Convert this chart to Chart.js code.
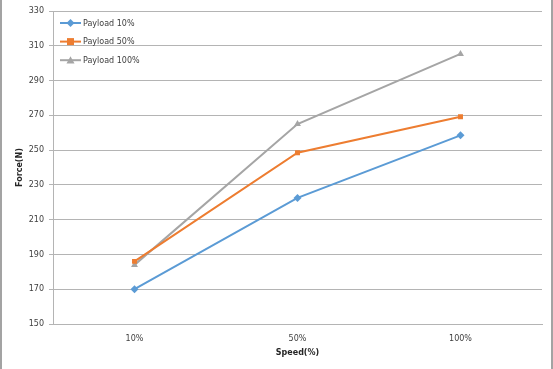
<!DOCTYPE html>
<html>
<head>
<meta charset="utf-8">
<script src="https://cdn.jsdelivr.net/npm/chart.js@4/dist/chart.umd.min.js"></script>
<style>
  html, body { margin: 0; padding: 0; background: #fff; }
  #wrap { width: 553px; height: 369px; position: relative; }
</style>
</head>
<body>
<div id="wrap"><canvas id="forceChart"></canvas></div>
<script>
const speeds = ['10%', '50%', '100%'];
const payload10 = [170, 222.5, 258.5];
const payload50 = [186, 248.5, 269.2];
const payload100 = [184, 265, 305.3];
const seriesNames = ['Payload 10%', 'Payload 50%', 'Payload 100%'];

const fontFamily = '"DejaVu Sans", sans-serif';
const textColor = '#404040';
const gridColor = '#b4b4b4';

const frame = {
  id: 'frame',
  beforeDraw(chart) {
    const { ctx, width, height } = chart;
    ctx.save();
    ctx.fillStyle = '#fff';
    ctx.fillRect(0, 0, width, height);
    ctx.fillStyle = '#a3a3a3';
    ctx.fillRect(0, 0, 2, height);
    ctx.fillRect(width - 2, 0, 2, height);
    ctx.restore();
  }
};

const drawMarker = (ctx, style, x, y, r, color) => {
  ctx.fillStyle = color;
  ctx.beginPath();
  if (style === 'rectRot') {
    ctx.moveTo(x, y - r);
    ctx.lineTo(x + r, y);
    ctx.lineTo(x, y + r);
    ctx.lineTo(x - r, y);
  } else if (style === 'rect') {
    ctx.rect(x - r, y - r, r * 2, r * 2);
  } else {
    ctx.moveTo(x, y - r);
    ctx.lineTo(x + r, y + r * 0.8);
    ctx.lineTo(x - r, y + r * 0.8);
  }
  ctx.closePath();
  ctx.fill();
};

const insideLegend = {
  id: 'insideLegend',
  afterDraw(chart) {
    const { ctx } = chart;
    ctx.save();
    ctx.font = '8px ' + fontFamily;
    ctx.textBaseline = 'middle';
    chart.data.datasets.forEach((ds, i) => {
      const y = 23 + i * 18.6;
      ctx.strokeStyle = ds.borderColor;
      ctx.lineWidth = 2;
      ctx.beginPath();
      ctx.moveTo(60, y);
      ctx.lineTo(81, y);
      ctx.stroke();
      drawMarker(ctx, ds.pointStyle, 70.5, y, ds.pointRadius, ds.backgroundColor);
      ctx.fillStyle = textColor;
      ctx.fillText(ds.label, 83, y + 0.5);
    });
    ctx.restore();
  }
};

const makeSet = (label, data, color, style, radius) => ({
  label,
  data,
  borderColor: color,
  backgroundColor: color,
  borderWidth: 2,
  pointStyle: style,
  pointRadius: radius,
  pointHoverRadius: radius,
  pointBorderWidth: 0,
  tension: 0
});

new Chart(document.getElementById('forceChart'), {
  type: 'line',
  data: {
    labels: speeds,
    datasets: [
      makeSet(seriesNames[0], payload10, '#5b9bd5', 'rectRot', 4),
      makeSet(seriesNames[1], payload50, '#ed7d31', 'rect', 3.5),
      makeSet(seriesNames[2], payload100, '#a5a5a5', 'triangle', 4)
    ]
  },
  options: {
    responsive: true,
    maintainAspectRatio: false,
    animation: false,
    layout: { padding: { top: 11, right: 11, bottom: 0, left: 0 } },
    plugins: {
      legend: { display: false },
      tooltip: { enabled: false }
    },
    scales: {
      x: {
        offset: true,
        grid: { display: false, drawTicks: false },
        border: { color: gridColor, width: 1 },
        ticks: { color: textColor, padding: 10, font: { family: fontFamily, size: 8 } },
        title: {
          display: true,
          text: 'Speed(%)',
          color: '#262626',
          padding: { top: 4, bottom: 11 },
          font: { family: fontFamily, size: 8, weight: 'bold' }
        },
        afterFit: (scale) => { scale.height = 45; }
      },
      y: {
        min: 150,
        max: 330,
        grid: { color: gridColor, tickLength: 4 },
        border: { color: gridColor, width: 1 },
        ticks: { stepSize: 20, color: textColor, padding: 5, font: { family: fontFamily, size: 8 } },
        title: {
          display: true,
          text: 'Force(N)',
          color: '#262626',
          padding: { top: 15, bottom: 4 },
          font: { family: fontFamily, size: 8, weight: 'bold' }
        },
        afterFit: (scale) => { scale.width = 53; }
      }
    }
  },
  plugins: [frame, insideLegend]
});
</script>
</body>
</html>
